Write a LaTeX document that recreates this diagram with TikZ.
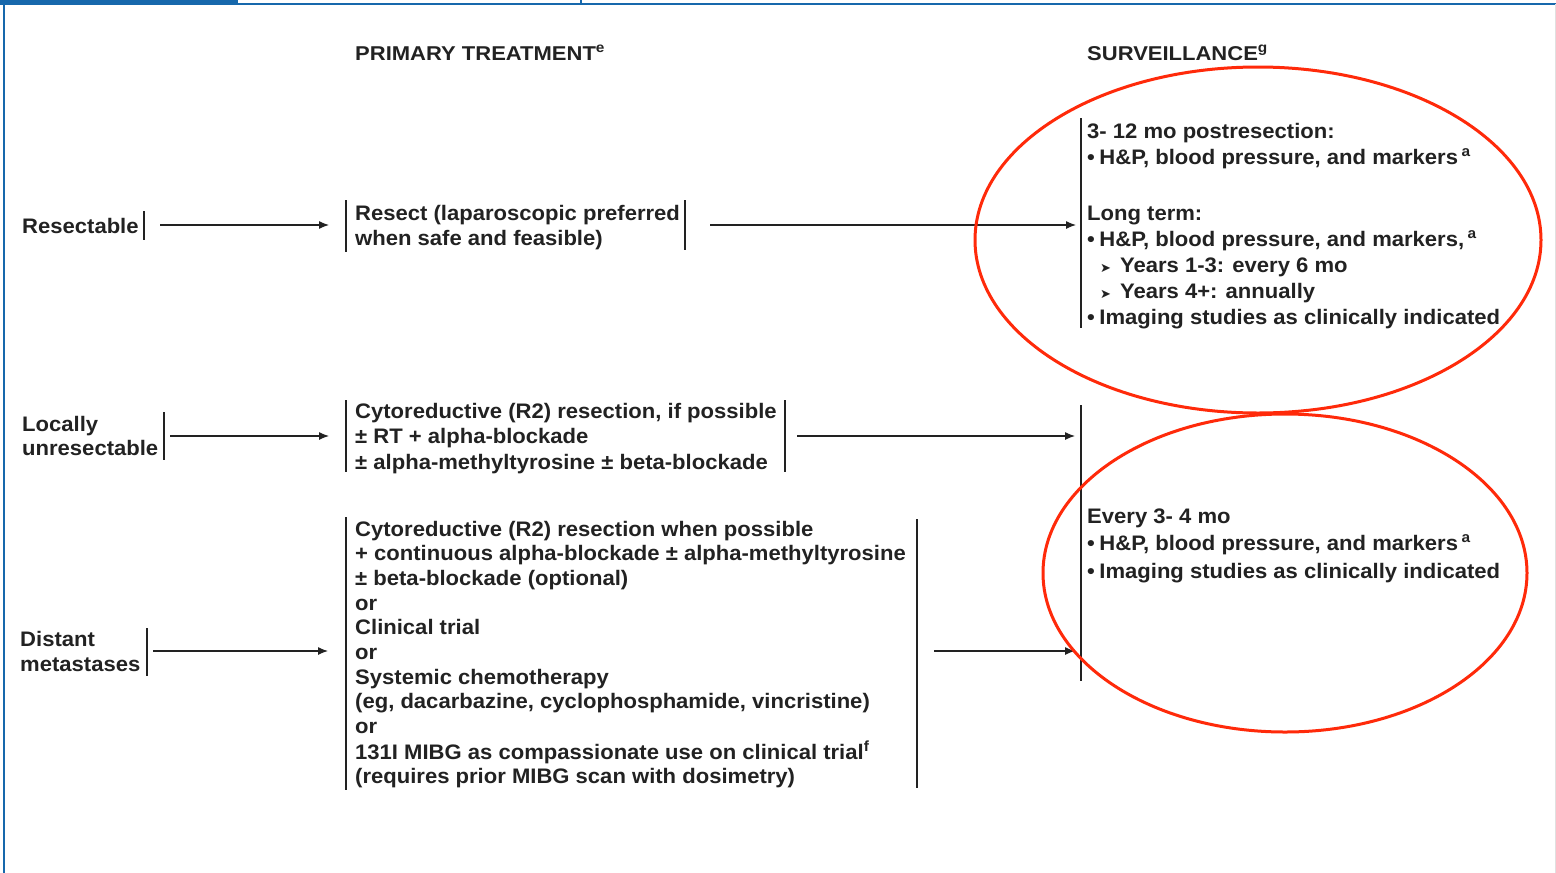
\documentclass[tikz,border=0pt]{standalone}
\usepackage{fontspec}
\setmainfont[FakeStretch=1.05]{Liberation Sans}
\newfontfamily\hdrfont[FakeStretch=1.1]{Liberation Sans}
\newfontfamily\dejavu{DejaVu Sans}
\usetikzlibrary{arrows.meta}
\definecolor{txt}{HTML}{222222}
\definecolor{framec}{HTML}{1768AC}
\definecolor{markc}{HTML}{FF2A0A}
\newcommand\ml[1]{\begin{tabular}[t]{@{}l@{}}#1\end{tabular}}
\newcommand\bul{\textbullet\hspace{4.5pt}}
\newcommand\subb{\hspace*{13pt}{\dejavu\fontsize{13}{13}\selectfont ➤}\hspace{9pt}}
\newcommand\supr[1]{\textsuperscript{#1}}
\begin{document}
\begin{tikzpicture}[x=1pt,y=-1pt,
  lbl/.style={anchor=base west, inner sep=0pt, text=txt, font=\bfseries\fontsize{21}{25}\selectfont},
  hdr/.style={anchor=base west, inner sep=0pt, text=txt, font=\hdrfont\bfseries\fontsize{20}{24}\selectfont},
  bar/.style={draw=txt, line width=1.3pt},
  arr/.style={draw=txt, line width=1.2pt, -{Latex[length=10pt,width=8pt]}},
  ring/.style={draw=markc, line width=3pt}]
\useasboundingbox (0,0) rectangle (1556,873);
\fill[white] (0,0) rectangle (1556,873);
% frame
\fill[framec] (0,0) rectangle (238,4.5);
\draw[framec, line width=1.6pt] (238,4.2) -- (1556,4.2);
\draw[framec, line width=1.6pt] (581,0) -- (581,4.2);
\draw[framec, line width=2pt] (3.8,0) -- (3.8,873);
\draw[black!12, line width=1pt] (1555.5,4) -- (1555.5,873);
% headers
\node[hdr] (hprim) at (355,60) {PRIMARY TREATMENT\supr{e}};
\node[hdr] (hsurv) at (1087,60) {SURVEILLANCE\supr{g}};
% left labels
\node[lbl] (res) at (22,233) {Resectable};
\node[lbl, font=\bfseries\fontsize{21}{24}\selectfont] (loc) at (22,431) {\ml{Locally\\unresectable}};
\node[lbl] (dist) at (20,646) {\ml{Distant\\metastases}};
% treatment boxes
\node[lbl] (t1) at (355,220) {\ml{Resect (laparoscopic preferred\\when safe and feasible)}};
\node[lbl, font=\bfseries\fontsize{21}{25.5}\selectfont] (t2) at (355,418) {\ml{Cytoreductive (R2) resection, if possible\\± RT + alpha-blockade\\± alpha-methyltyrosine ± beta-blockade}};
\node[lbl, font=\bfseries\fontsize{21}{24.7}\selectfont] (t3) at (355,536) {\ml{Cytoreductive (R2) resection when possible\\+ continuous alpha-blockade ± alpha-methyltyrosine\\± beta-blockade (optional)\\or\\Clinical trial\\or\\Systemic chemotherapy\\(eg, dacarbazine, cyclophosphamide, vincristine)\\or\\131I MIBG as compassionate use on clinical trial\supr{f}\\(requires prior MIBG scan with dosimetry)}};
% surveillance
\node[lbl, font=\bfseries\fontsize{21}{26}\selectfont] (s1) at (1087,138) {\ml{3- 12 mo postresection:\\\bul H\&P, blood pressure, and markers\,\supr{a}\\[30pt]Long term:\\\bul H\&P, blood pressure, and markers,\,\supr{a}\\\subb Years 1-3: every 6 mo\\\subb Years 4+: annually\\\bul Imaging studies as clinically indicated}};
\node[lbl, font=\bfseries\fontsize{21}{27.5}\selectfont] (s2) at (1087,523) {\ml{Every 3- 4 mo\\\bul H\&P, blood pressure, and markers\,\supr{a}\\\bul Imaging studies as clinically indicated}};
% bars
\draw[bar] (144,211) -- (144,240);
\draw[bar] (164,412) -- (164,460);
\draw[bar] (147,628) -- (147,676);
\draw[bar] (346,200) -- (346,252);
\draw[bar] (685,200) -- (685,250);
\draw[bar] (346,400) -- (346,472);
\draw[bar] (785,400) -- (785,472);
\draw[bar] (346,517) -- (346,790);
\draw[bar] (917,519) -- (917,788);
\draw[bar] (1081,118) -- (1081,328);
\draw[bar] (1081,405) -- (1081,681);
% arrows
\coordinate (a1s) at (160,225); \coordinate (a1e) at (329,225);
\coordinate (a2s) at (710,225); \coordinate (a2e) at (1076,225);
\coordinate (a3s) at (170,436); \coordinate (a3e) at (329,436);
\coordinate (a4s) at (797,436); \coordinate (a4e) at (1075,436);
\coordinate (a5s) at (153,651); \coordinate (a5e) at (328,651);
\coordinate (a6s) at (934,651); \coordinate (a6e) at (1075,651);
\draw[arr] (a1s) -- (a1e);
\draw[arr] (a2s) -- (a2e);
\draw[arr] (a3s) -- (a3e);
\draw[arr] (a4s) -- (a4e);
\draw[arr] (a5s) -- (a5e);
\draw[arr] (a6s) -- (a6e);
% red marks
\draw[ring] (1258,240) ellipse [x radius=283pt, y radius=173pt];
\draw[ring] (1285,573) ellipse [x radius=242pt, y radius=159pt];
\end{tikzpicture}
\end{document}
